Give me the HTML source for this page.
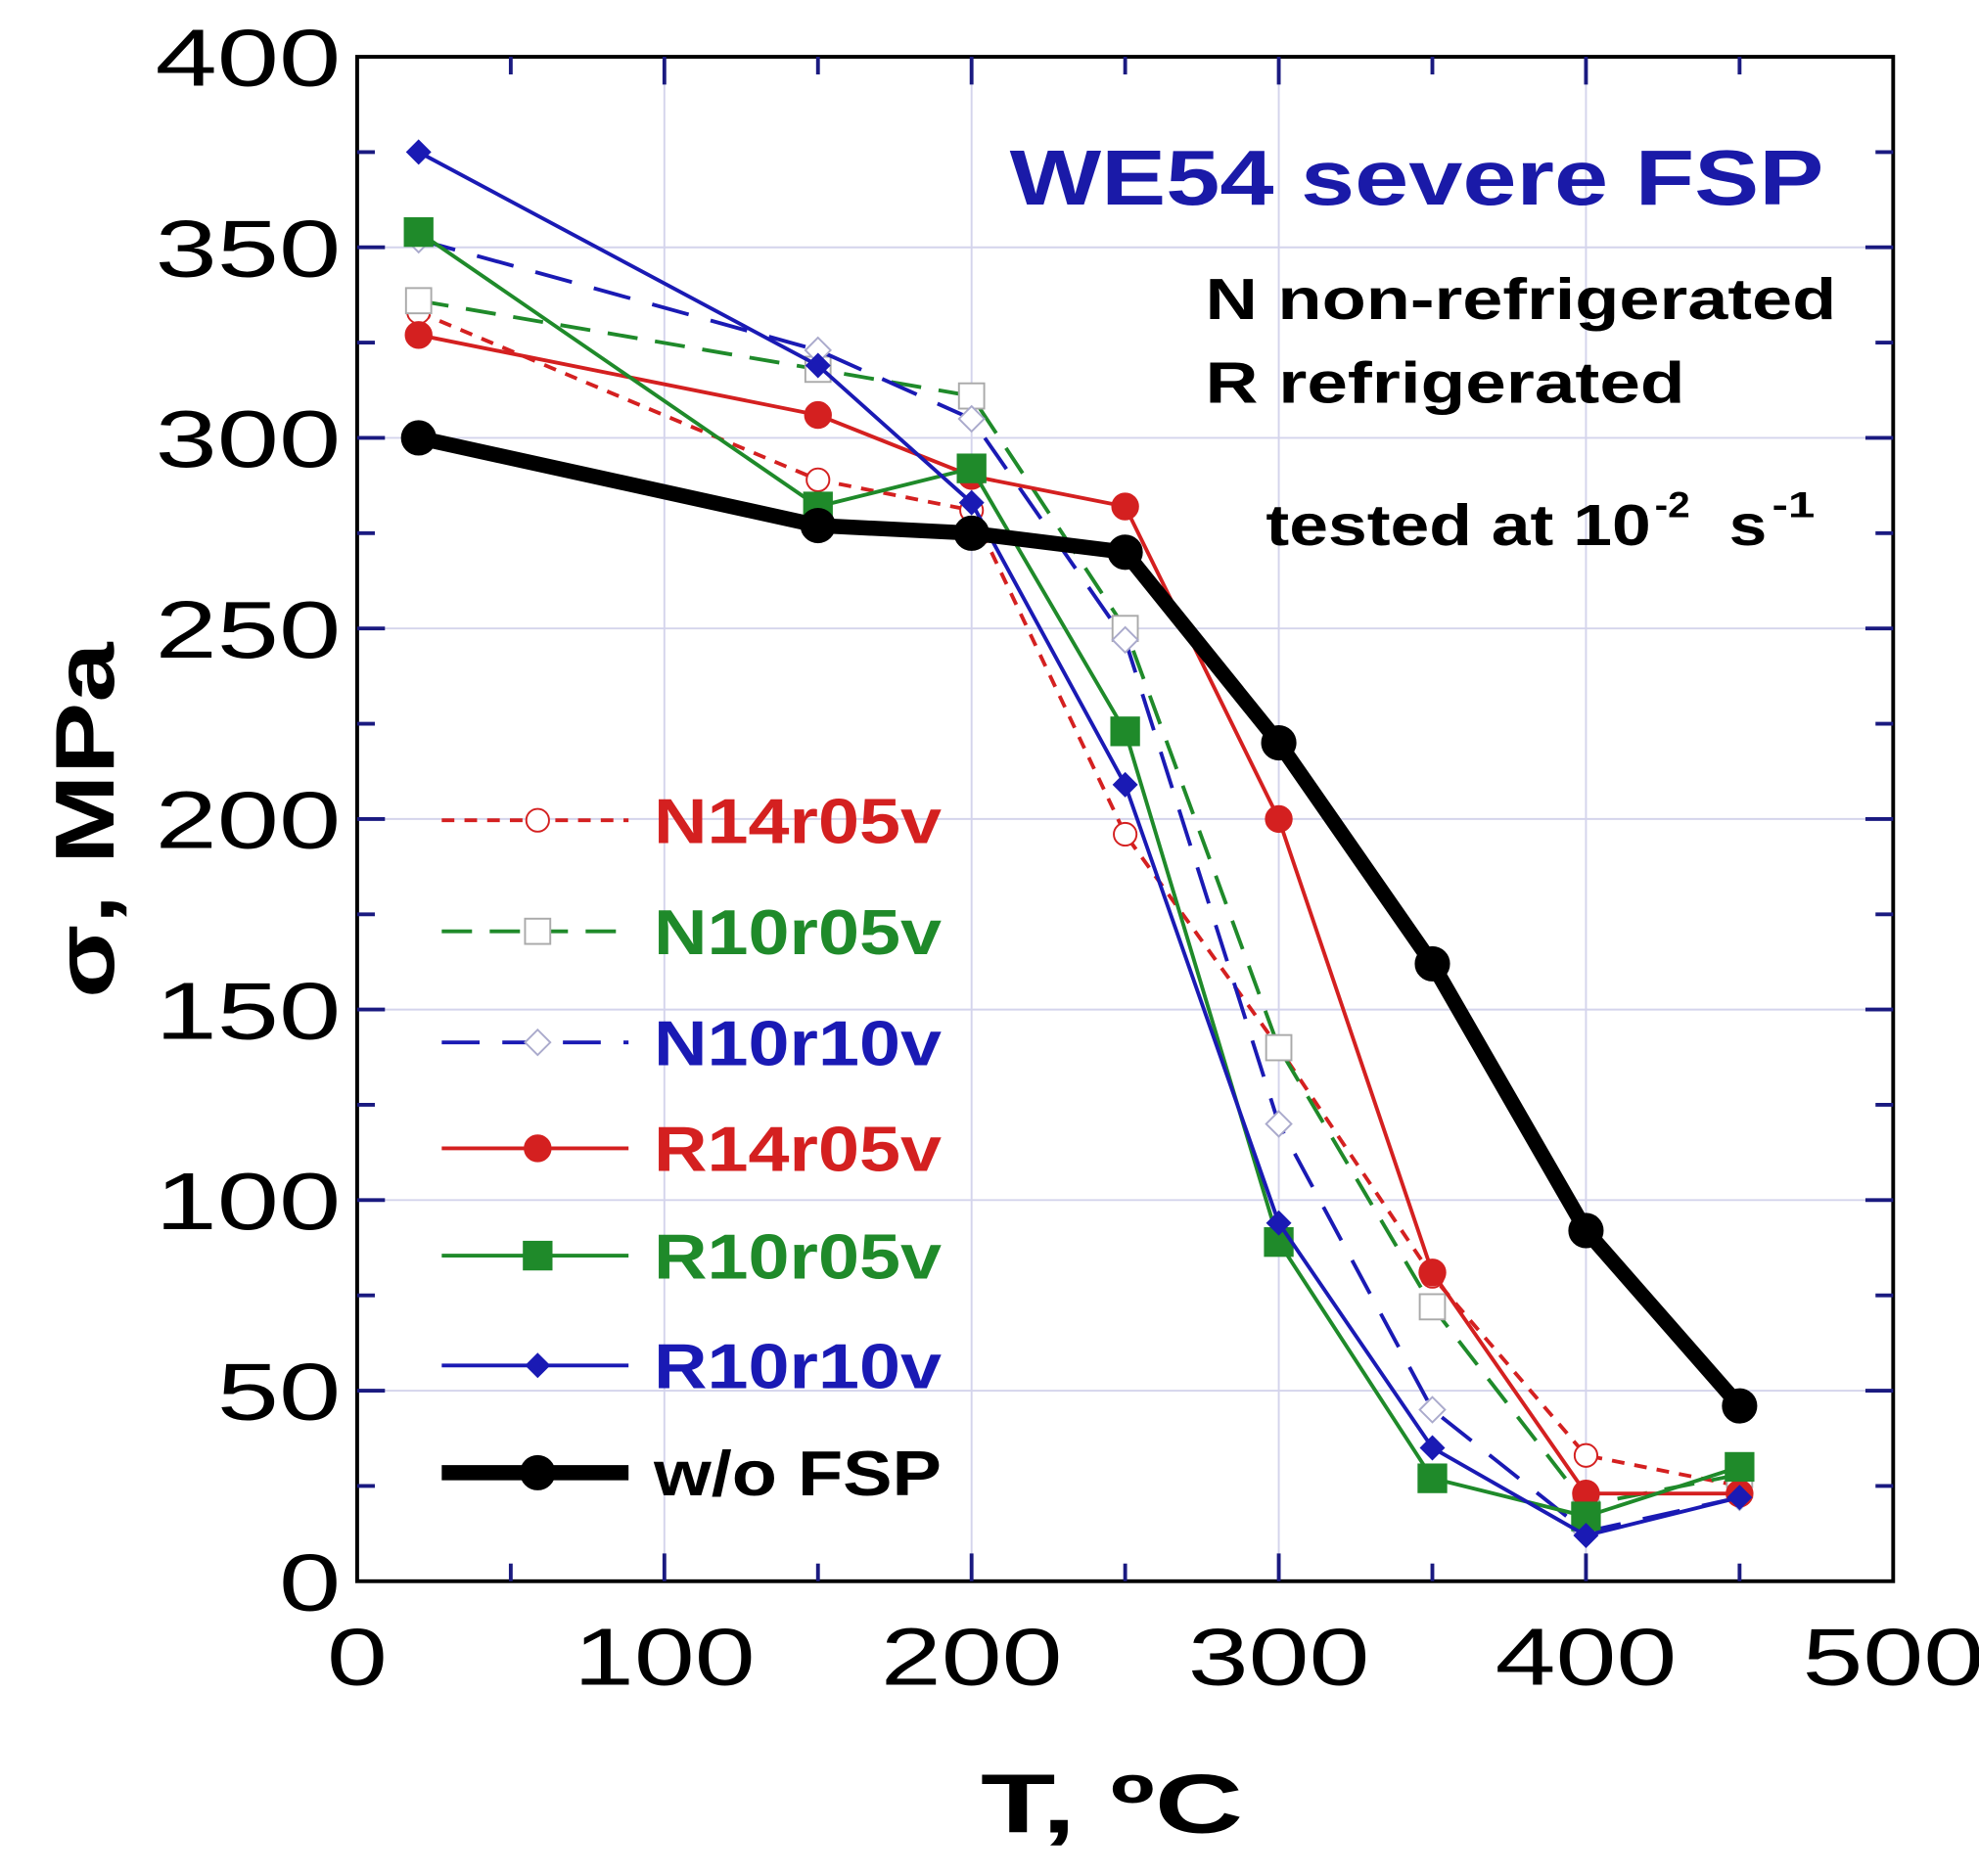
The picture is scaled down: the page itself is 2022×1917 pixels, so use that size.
<!DOCTYPE html>
<html><head><meta charset="utf-8"><style>
html,body{margin:0;padding:0;background:#fff}
svg{display:block}
text{font-family:"Liberation Sans",Arial,sans-serif}
</style></head><body>
<svg id="chart" width="2022" height="1917" viewBox="0 0 1568 1486.6" preserveAspectRatio="none" xmlns="http://www.w3.org/2000/svg">
<g id="grid"></g>
<g id="series"></g>
<rect x="283" y="45" width="1217" height="1208" fill="none" stroke="#000" stroke-width="3"/>
<g id="ticks"></g>
<text x="777" y="1452" font-size="66" font-weight="bold" textLength="208" lengthAdjust="spacingAndGlyphs">T, ºC</text>
<text transform="translate(90,650) rotate(-90)" font-size="66" font-weight="bold" text-anchor="middle" textLength="282" lengthAdjust="spacingAndGlyphs">σ, MPa</text>
<text x="800" y="162" font-size="62" font-weight="bold" fill="#1a1aa8" textLength="645" lengthAdjust="spacingAndGlyphs">WE54 severe FSP</text>
<text x="955" y="253" font-size="46" font-weight="bold" textLength="500" lengthAdjust="spacingAndGlyphs">N  non-refrigerated</text>
<text x="955" y="319" font-size="46" font-weight="bold" textLength="380" lengthAdjust="spacingAndGlyphs">R  refrigerated</text>
<g font-weight="bold">
<text x="1003" y="432" font-size="46" textLength="305" lengthAdjust="spacingAndGlyphs">tested at 10</text>
<text x="1311" y="410" font-size="29" textLength="28" lengthAdjust="spacingAndGlyphs">-2</text>
<text x="1370" y="432" font-size="46" textLength="30" lengthAdjust="spacingAndGlyphs">s</text>
<text x="1404" y="410" font-size="29" textLength="34" lengthAdjust="spacingAndGlyphs">-1</text>
</g>
<g id="legend"></g>
</svg>
<script>
const temps = [20,150,200,250,300,350,400,450];
const seriesNames = ["N14r05v","N10r05v","N10r10v","R14r05v","R10r05v","R10r10v","w/o FSP"];
const n14r05v = [333,289,281,196,140,80,33,25];
const n10r05v = [336,318,311,250,140,72,20,28];
const n10r10v = [352,323,305,247,120,45,13,22];
const r14r05v = [327,306,290,282,200,81,23,23];
const r10r05v = [354,282,292,223,89,27,17,30];
const r10r10v = [375,319,283,209,94,35,12,22];
const woFsp = [300,277,275,270,220,162,92,46];
const xTicks = [0,100,200,300,400,500];
const yTicks = [0,50,100,150,200,250,300,350,400];

const NS="http://www.w3.org/2000/svg";
const X0=283,X1=1500,Y0=1253,Y1=45;
const xs=v=>X0+(v-0)/500*(X1-X0);
const ys=v=>Y0-(v-0)/400*(Y0-Y1);
function mk(tag,attrs,parent){const e=document.createElementNS(NS,tag);for(const k in attrs)e.setAttribute(k,attrs[k]);parent.appendChild(e);return e;}
const grid=document.getElementById('grid'),ticks=document.getElementById('ticks'),ser=document.getElementById('series'),leg=document.getElementById('legend');
const tc="#1a1a80";
xTicks.forEach(v=>{
  if(v>0&&v<500){const g=mk('line',{x1:xs(v),x2:xs(v),y1:Y0,y2:Y1,stroke:"#d4d4ec","stroke-width":1.5},grid);
  }
  const s=String(v);
  const t=mk('text',{x:xs(v),y:1335,"font-size":64,"text-anchor":"middle",textLength:48*s.length,lengthAdjust:"spacingAndGlyphs"},ticks);t.textContent=s;
  
});
for(let v=50;v<500;v+=50){const L=v%100===0?22:14;
  mk('line',{x1:xs(v),x2:xs(v),y1:Y0,y2:Y0-L,stroke:tc,"stroke-width":3},ticks);
  mk('line',{x1:xs(v),x2:xs(v),y1:Y1,y2:Y1+L,stroke:tc,"stroke-width":3},ticks);}
yTicks.forEach(v=>{
  if(v>0&&v<400){const g=mk('line',{x1:X0,x2:X1,y1:ys(v),y2:ys(v),stroke:"#d4d4ec","stroke-width":1.5},grid);
  }
  const s=String(v);
  const t=mk('text',{x:270,y:ys(v)+23,"font-size":64,"text-anchor":"end",textLength:49*s.length,lengthAdjust:"spacingAndGlyphs"},ticks);t.textContent=s;
  
});
for(let v=25;v<400;v+=25){const L=v%50===0?22:14;
  mk('line',{x1:X0,x2:X0+L,y1:ys(v),y2:ys(v),stroke:tc,"stroke-width":3},ticks);
  mk('line',{x1:X1,x2:X1-L,y1:ys(v),y2:ys(v),stroke:tc,"stroke-width":3},ticks);}

const styles=[
 {d:n14r05v,c:"#d42020",dash:"10,8",m:"circle",fill:"none",w:3,r:9},
 {d:n10r05v,c:"#1f8a2a",dash:"24,14",m:"square",fill:"none",w:3,r:10},
 {d:n10r10v,c:"#1a1ab4",dash:"30,18",m:"diamond",fill:"none",w:3,r:10},
 {d:r14r05v,c:"#d42020",dash:"",m:"circle",fill:"#d42020",w:3,r:10},
 {d:r10r05v,c:"#1f8a2a",dash:"",m:"square",fill:"#1f8a2a",w:3,r:11},
 {d:r10r10v,c:"#1a1ab4",dash:"",m:"diamond",fill:"#1a1ab4",w:3,r:9},
 {d:woFsp,c:"#000",dash:"",m:"circle",fill:"#000",w:12,r:13}
];
function marker(s,x,y,parent){
  let e;
  if(s.m==="circle")e=mk('circle',{cx:x,cy:y,r:s.r,fill:s.fill==="none"?"#fff":s.fill,stroke:s.c,"stroke-width":s.fill==="none"?1.5:2},parent);
  else if(s.m==="square")e=mk('rect',{x:x-s.r,y:y-s.r,width:2*s.r,height:2*s.r,fill:s.fill==="none"?"#fff":s.fill,stroke:s.fill==="none"?"#aaa":s.c,"stroke-width":1.5},parent);
  else e=mk('polygon',{points:`${x},${y-s.r} ${x+s.r},${y} ${x},${y+s.r} ${x-s.r},${y}`,fill:s.fill==="none"?"#fff":s.fill,stroke:s.fill==="none"?"#aac":s.c,"stroke-width":1.5},parent);
  return e;
}
styles.forEach((s,i)=>{
  const g=mk('g',{},ser);
  
  
  const pts=s.d.map((v,j)=>xs(temps[j])+","+ys(v)).join(" ");
  const pl=mk('polyline',{points:pts,fill:"none",stroke:s.c,"stroke-width":s.w,"stroke-dasharray":s.dash,"stroke-linejoin":"round"},g);
  
  
  s.d.forEach((v,j)=>{const m=marker(s,xs(temps[j]),ys(v),g);
    
    });
  const ly=[650,738,826,910,995,1082,1167][i];
  const lg=mk('g',{},leg);
  
  
  mk('line',{x1:350,x2:498,y1:ly,y2:ly,stroke:s.c,"stroke-width":s.w,"stroke-dasharray":s.dash},lg);
  marker(s,426,ly,lg);
  const t=mk('text',{x:518,y:ly+18,"font-size":50,"font-weight":"bold",fill:s.c,textLength:228,lengthAdjust:"spacingAndGlyphs"},lg);
  t.textContent=seriesNames[i];
});
</script>
</body></html>
